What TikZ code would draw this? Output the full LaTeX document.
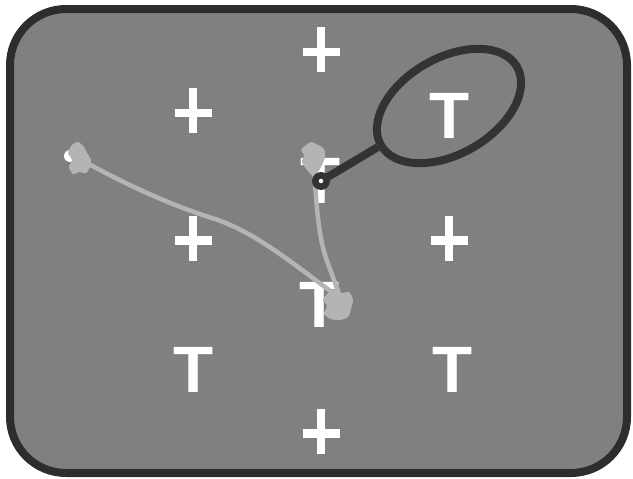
\documentclass[tikz,border=0pt]{standalone}
\usepackage{fontspec}
\newfontfamily\stimfont{Liberation Sans}
\usetikzlibrary{shapes.geometric}
\definecolor{panel}{gray}{0.502}
\definecolor{rim}{HTML}{2D2D2D}
\definecolor{trail}{HTML}{B4B4B4}
\definecolor{lensink}{HTML}{333333}
\tikzset{
  tlet/.style={text=white, inner sep=0pt, anchor=base,
    font=\stimfont\bfseries\fontsize{65.6pt}{66pt}\selectfont},
  plusmark/.pic={
    \fill[white] (-4,-22.5) rectangle (4,22.5);
    \fill[white] (-18.5,-2) rectangle (18.5,6.5);
  },
  trailline/.style={draw=trail, line width=4.5pt, line cap=round, line join=round},
  blob/.style={fill=trail},
  handle/.style={draw=lensink, line width=8pt},
}
\begin{document}
\begin{tikzpicture}[x=1pt, y=-1pt]
  \useasboundingbox (0,0) rectangle (633,479);
  % display panel
  \draw[fill=panel, draw=rim, line width=8pt, rounded corners=56pt] (10,9) rectangle (627,473);

  % distractor crosses
  \pic at (321,49.5) {plusmark};
  \pic at (193,110.5) {plusmark};
  \pic at (193,238) {plusmark};
  \pic at (449,238) {plusmark};
  \pic at (321,431) {plusmark};

  % T items
  \node[tlet] (tlens) at (450,138) {T};
  \node[tlet] (tmid)  at (321,203) {T};
  \node[tlet] (tlow)  at (320,327) {T};
  \node[tlet] (tbl)   at (193.5,392) {T};
  \node[tlet] (tbr)   at (453,392) {T};
  \fill[white] (70,156) circle (6);

  % gaze trails
  \draw[trailline] (85,162) .. controls (140,192) and (180,208) .. (215,219)
                   .. controls (260,234) and (300,270) .. (343,300);
  \draw[trailline] (314,165) .. controls (316,200) and (318,235) .. (326,258)
                   .. controls (333,278) and (338,290) .. (341,300);

  % fixation blobs
  \fill[blob] plot[smooth cycle] coordinates {(72,145) (78,142) (84,147) (87,153) (91,160) (90,167) (86,173) (79,172) (73,174) (69,167) (72,160) (68,153)};
  \fill[blob] plot[smooth cycle] coordinates {(305,146) (311,142) (318,145) (324,149) (325,157) (322,165) (318,172) (313,176) (307,170) (302,162) (304,155) (301,150)};
  \fill[blob] plot[smooth cycle] coordinates {(327,294) (334,290) (342,293) (349,292) (353,300) (351,309) (348,317) (340,320) (331,319) (324,314) (327,306) (323,300)};

  % magnifier lens
  \node[ellipse, draw=lensink, line width=8pt, inner sep=0pt, rotate=30,
        minimum width=157pt, minimum height=96pt] (lens) at (449,106) {};
  \node[circle, fill=lensink, inner sep=0pt, minimum size=18pt] (dot) at (321,181) {};
  \draw[handle] (dot.center) -- (lens.west);
  \node[circle, fill=white, inner sep=0pt, minimum size=4.5pt] (dotc) at (dot.center) {};
\end{tikzpicture}
\end{document}
